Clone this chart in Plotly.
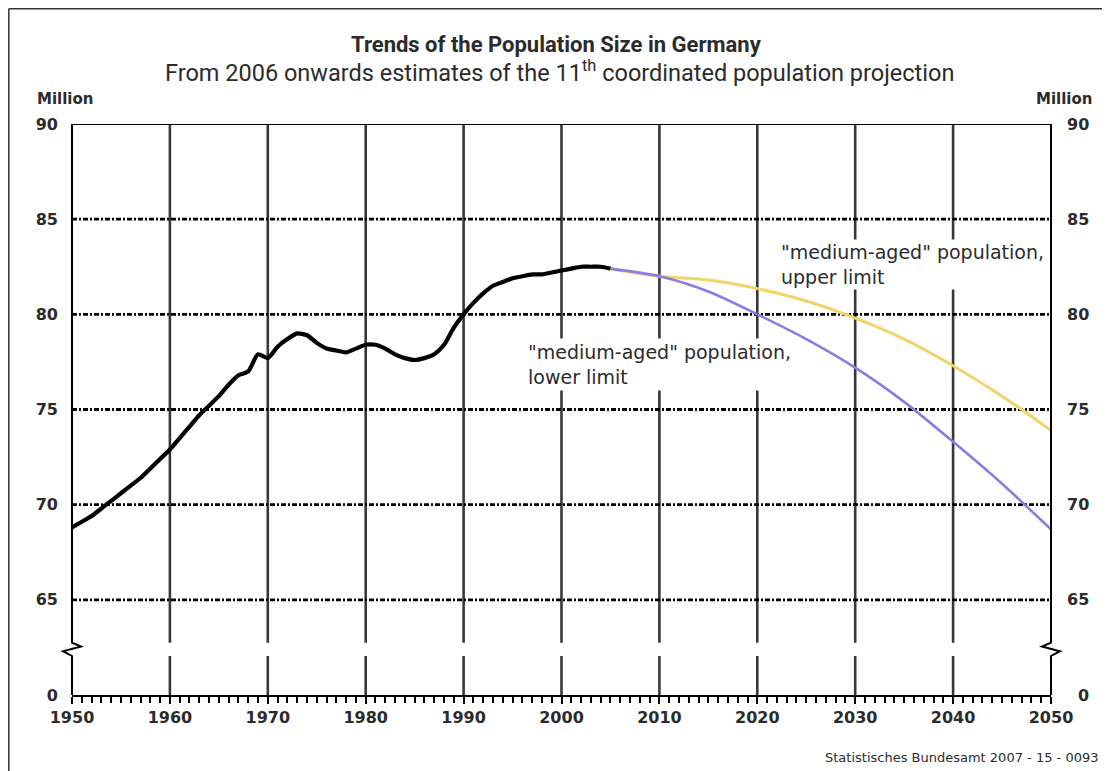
import plotly.graph_objects as go

# ---------------- data ----------------
years_hist = list(range(1950, 2006))
pop_hist = [68.8, 69.1, 69.4, 69.8, 70.2, 70.6, 71.0, 71.4, 71.9, 72.4,
            72.9, 73.5, 74.1, 74.7, 75.2, 75.7, 76.3, 76.8, 77.0, 77.9,
            77.7, 78.3, 78.7, 79.0, 78.9, 78.5, 78.2, 78.1, 78.0, 78.2,
            78.4, 78.4, 78.2, 77.9, 77.7, 77.6, 77.7, 77.9, 78.4, 79.3,
            80.0, 80.6, 81.1, 81.5, 81.7, 81.9, 82.0, 82.1, 82.1, 82.2,
            82.3, 82.4, 82.5, 82.5, 82.5, 82.4]

years_proj = [2005, 2010, 2015, 2020, 2025, 2030, 2035, 2040, 2045, 2050]
pop_lower = [82.4, 82.0, 81.2, 80.0, 78.7, 77.2, 75.4, 73.3, 71.1, 68.7]
pop_upper = [82.4, 82.0, 81.8, 81.35, 80.7, 79.8, 78.7, 77.3, 75.7, 73.9]

x_ticks = list(range(1950, 2051, 10))
x_ticktext = [str(v) for v in x_ticks]
y_gridvals = [65, 70, 75, 80, 85]
y_tickvals = [60, 65, 70, 75, 80, 85, 90]      # 60 is the position of the broken-axis "0"
y_ticktext = ["0", "65", "70", "75", "80", "85", "90"]

title = "Trends of the Population Size in Germany"
subtitle = "From 2006 onwards estimates of the 11<sup>th</sup> coordinated population projection"
label_upper = "\"medium-aged\" population,<br>upper limit"
label_lower = "\"medium-aged\" population,<br>lower limit"
source = "Statistisches Bundesamt 2007 - 15 - 0093"

# ---------------- layout geometry (page has an 8px body margin) ----------------
OFF = 8
W, H = 1110 - OFF, 771 - OFF
L, R, T, B = 72 - OFF, 1051 - OFF, 124 - OFF, 695 - OFF
XMIN, XMAX = 1950, 2050
YMIN, YMAX = 60, 90
BREAK_TOP, BREAK_BOT = 62.75, 62.05


def pxx(p):
    """reference-picture x pixel -> paper coordinate"""
    return (p - OFF - L) / (R - L)


def pxy(p):
    """reference-picture y pixel -> paper coordinate"""
    return (B - (p - OFF)) / (B - T)


def yv2paper(v):
    return (v - YMIN) / (YMAX - YMIN)


TXT = "#2b2b2b"
TICKFONT = dict(family="DejaVu Sans", size=16, color=TXT, weight="bold")
TITLEFONT = "Roboto, sans-serif"

fig = go.Figure()

fig.add_trace(go.Scatter(x=years_proj, y=pop_upper, mode="lines",
                         line=dict(color="#f2d46a", width=3, shape="spline", smoothing=0.8),
                         hoverinfo="skip", showlegend=False))
fig.add_trace(go.Scatter(x=years_proj, y=pop_lower, mode="lines",
                         line=dict(color="#8a7ce4", width=2.6, shape="spline", smoothing=0.8),
                         hoverinfo="skip", showlegend=False))
fig.add_trace(go.Scatter(x=years_hist, y=pop_hist, mode="lines",
                         line=dict(color="black", width=4.2, shape="spline", smoothing=0.6),
                         hoverinfo="skip", showlegend=False))

shapes = []
# vertical grid lines with the axis-break gap
for xv in x_ticks[1:-1]:
    for y0, y1 in ((BREAK_TOP, YMAX), (YMIN, BREAK_BOT)):
        shapes.append(dict(type="line", xref="x", yref="y", x0=xv, x1=xv, y0=y0, y1=y1,
                           line=dict(color="#383838", width=2.6), layer="below"))
# horizontal dash-dot grid lines
for yv in y_gridvals:
    shapes.append(dict(type="line", xref="x", yref="y", x0=XMIN, x1=XMAX, y0=yv, y1=yv,
                       line=dict(color="black", width=2.8, dash="5px,2px,2px,2px"), layer="below"))

# frame: top line and the two broken side axes
shapes.append(dict(type="line", xref="x", yref="y", x0=XMIN, x1=XMAX, y0=YMAX, y1=YMAX,
                   line=dict(color="black", width=2), layer="above"))


def side_path(px0, sign):
    dx = 9.0 / (R - L)
    x0 = px0
    pts = [(x0, yv2paper(YMAX)), (x0, yv2paper(BREAK_TOP)),
           (x0 + sign * dx, yv2paper(BREAK_TOP - 0.2)),
           (x0 - sign * dx, yv2paper(BREAK_BOT + 0.25)),
           (x0, yv2paper(BREAK_BOT)), (x0, yv2paper(YMIN))]
    return "M " + " L ".join(f"{a:.5f},{b:.5f}" for a, b in pts)


shapes.append(dict(type="path", xref="paper", yref="paper", path=side_path(0.0, 1),
                   line=dict(color="black", width=2), layer="above"))
shapes.append(dict(type="path", xref="paper", yref="paper", path=side_path(1.0, -1),
                   line=dict(color="black", width=2), layer="above"))

# outer border of the picture (left and top)
shapes.append(dict(type="line", xref="paper", yref="paper", x0=pxx(8.8), x1=pxx(8.8),
                   y0=pxy(8.8), y1=pxy(771), line=dict(color="#333", width=1.5)))
shapes.append(dict(type="line", xref="paper", yref="paper", x0=pxx(8.8), x1=pxx(1110),
                   y0=pxy(8.8), y1=pxy(8.8), line=dict(color="#333", width=1.5)))

annotations = [
    dict(text=f"<b>{title}</b>", xref="paper", yref="paper", x=pxx(556), y=pxy(44),
         showarrow=False, xanchor="center", yanchor="middle",
         font=dict(family=TITLEFONT, size=22, color=TXT)),
    dict(text=subtitle, xref="paper", yref="paper", x=pxx(559), y=pxy(72),
         showarrow=False, xanchor="center", yanchor="middle",
         font=dict(family=TITLEFONT, size=23.5, color=TXT)),
    dict(text="Million", xref="paper", yref="paper", x=pxx(35), y=pxy(99),
         showarrow=False, xanchor="left", yanchor="middle",
         font=dict(family="DejaVu Sans", size=15, color=TXT, weight="bold")),
    dict(text="Million", xref="paper", yref="paper", x=pxx(1094), y=pxy(99),
         showarrow=False, xanchor="right", yanchor="middle",
         font=dict(family="DejaVu Sans", size=15, color=TXT, weight="bold")),
    dict(text=label_upper, xref="x", yref="y", x=2022.2, y=83.95, showarrow=False,
         xanchor="left", yanchor="top", align="left", bgcolor="white", borderpad=1,
         font=dict(family="DejaVu Sans", size=19, color=TXT)),
    dict(text=label_lower, xref="x", yref="y", x=1996.3, y=78.75, showarrow=False,
         xanchor="left", yanchor="top", align="left", bgcolor="white", borderpad=2,
         font=dict(family="DejaVu Sans", size=19, color=TXT)),
    dict(text=source, xref="paper", yref="paper", x=pxx(1100), y=pxy(757),
         showarrow=False, xanchor="right", yanchor="middle",
         font=dict(family="DejaVu Sans", size=13, color=TXT)),
]
# right-hand value labels (right aligned, like the original)
for v, t in zip(y_tickvals, y_ticktext):
    annotations.append(dict(text=t, xref="paper", yref="y", x=pxx(1091), y=v,
                            showarrow=False, xanchor="right", yanchor="middle",
                            font=TICKFONT))

fig.update_layout(
    width=W, height=H,
    margin=dict(l=L, r=W - R, t=T, b=H - B),
    paper_bgcolor="white", plot_bgcolor="white",
    showlegend=False,
    shapes=shapes, annotations=annotations,
    xaxis=dict(range=[XMIN, XMAX], tickvals=x_ticks, ticktext=x_ticktext,
               showgrid=False, zeroline=False, showline=True, linecolor="black", linewidth=2,
               ticks="outside", ticklen=7, tickwidth=2, tickcolor="black",
               minor=dict(dtick=1, ticks="outside", ticklen=6, tickwidth=1.5, tickcolor="black"),
               tickfont=TICKFONT, fixedrange=True),
    yaxis=dict(range=[YMIN, YMAX], tickvals=y_tickvals, ticktext=y_ticktext,
               showgrid=False, zeroline=False, showline=False, ticks="",
               ticklabelstandoff=13, tickfont=TICKFONT, fixedrange=True),
)

fig.write_html("out.html")
